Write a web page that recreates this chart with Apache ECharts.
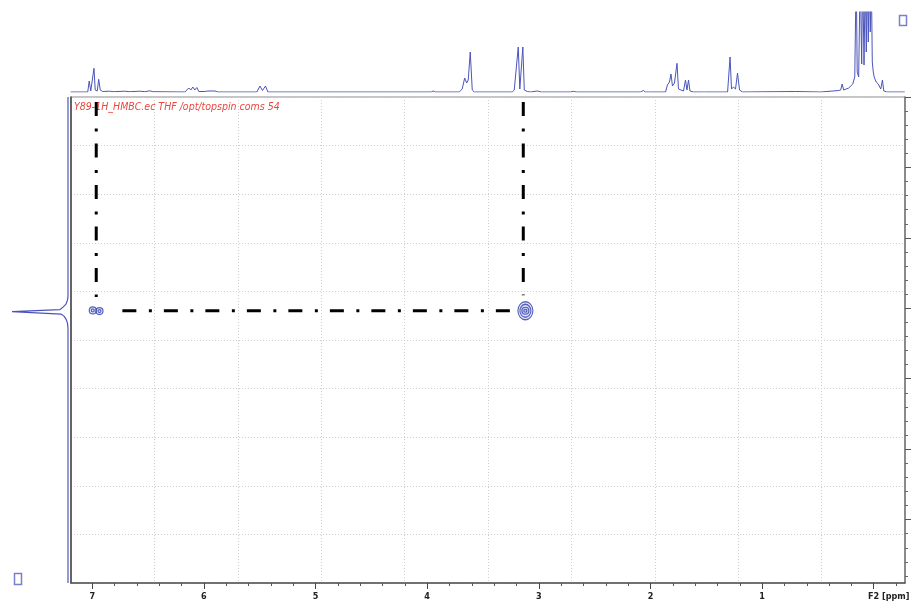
<!DOCTYPE html>
<html>
<head>
<meta charset="utf-8">
<title>HMBC</title>
<script src="https://cdn.jsdelivr.net/npm/echarts@6/dist/echarts.min.js"></script>
<style>
  html, body { margin: 0; padding: 0; background: #fff; }
  #chart { width: 912px; height: 603px; }
</style>
</head>
<body>
<div id="chart"></div>
<script>
// F2 (1H) projection on top: ppm / intensity pairs
var f2Ppm = [7.193, 7.040, 7.027, 7.013, 6.996, 6.984, 6.973, 6.955, 6.942, 6.928, 6.906, 6.843, 6.807, 6.709, 6.664,
  6.574, 6.529, 6.484, 6.457, 6.170, 6.135, 6.117, 6.099, 6.081, 6.063, 6.045, 5.991, 5.964, 5.901, 5.874,
  5.525, 5.498, 5.475, 5.448, 5.426, 3.964, 3.946, 3.928, 3.713, 3.686, 3.664, 3.646, 3.632, 3.614, 3.596, 3.578,
  3.238, 3.220, 3.184, 3.170, 3.157, 3.143, 3.130, 3.103, 3.076, 3.013, 2.996, 2.978, 2.717, 2.691, 2.664,
  2.090, 2.063, 2.045, 2.030, 2.009, 1.865, 1.848, 1.830, 1.816, 1.803, 1.785, 1.762, 1.749, 1.704, 1.686,
  1.673, 1.659, 1.646, 1.614, 1.534, 1.525, 1.516, 1.309, 1.287, 1.274, 1.256, 1.238, 1.220, 1.202, 1.175,
  0.700, 0.475, 0.314, 0.296, 0.283, 0.269, 0.224, 0.188, 0.170, 0.157, 0.148, 0.135, 0.121, 0.108, 0.099,
  0.087, 0.076, 0.067, 0.058, 0.049, 0.040, 0.031, 0.022, 0.013, 0.004, -0.004, -0.013, -0.022, -0.031,
  -0.040, -0.049, -0.063, -0.078, -0.090, -0.117, -0.278];
var f2Int = [0, 0, 11, 1, 2, 23.7, 2, 1, 12.7, 2, 0.5, 0.8, 0.3, 0.8, 0.3,
  0.8, 0.3, 1.2, 0.3, 0, 4, 2, 5, 2, 4.5, 0.5, 0.5, 1, 1, 0,
  0, 6, 1.5, 6, 0, 0, 1, 0, 0, 3, 14, 9, 12, 40, 2, 0,
  0, 2, 45, 3, 3, 45, 2, 0.5, 0, 1, 0.5, 0, 0, 0.7, 0,
  0, 1.5, 0, 1.5, 0, 0, 7, 10, 18, 6, 9, 28.7, 3, 1, 12,
  2, 12, 1, 0, 0, 1, 0, 0, 35, 3, 5, 3, 19, 2, 0,
  0.5, 0, 1.5, 2, 8, 2, 4, 8, 15, 120, 20, 15, 120, 28, 120,
  27, 120, 40, 120, 50, 120, 60, 120, 30, 20, 15, 14, 10, 12,
  8, 6, 3, 12, 1, 0, 0];

// F1 projection on the left
var f1Ppm = [130, 158.27, 158.84, 159.40, 159.83, 160.18, 160.48, 160.82, 161.11, 161.53, 162.10, 162.81, 199];
var f1Int = [0, 0, 0.5, 2, 5, 8, 56, 7, 4, 2, 0.5, 0, 0];

// cross peaks: [F2 ppm, F1 ppm, contour level]
var crossPeaks = [
  [3.12, 160.35, 1], [3.12, 160.35, 2], [3.12, 160.35, 3], [3.12, 160.35, 4],
  [6.995, 160.30, 3], [6.995, 160.30, 4], [6.935, 160.40, 3], [6.935, 160.40, 4]
];

// dash-dot correlation guides
var guideH = [[6.73, 160.33], [3.238, 160.33]];
var guideV1 = [[6.964, 130.71], [6.964, 158.4]];
var guideV2 = [[3.139, 130.71], [3.139, 158.13]];

var f2Range = [-0.28, 7.19];
var f1Range = [130, 199];
var f2Ticks = [7, 6, 5, 4, 3, 2, 1, 0];
var f2MinorTicks = [6.8, 6.6, 6.4, 6.2, 5.8, 5.6, 5.4, 5.2, 4.8, 4.6, 4.4, 4.2, 3.8, 3.6, 3.4, 3.2,
  2.8, 2.6, 2.4, 2.2, 1.8, 1.6, 1.4, 1.2, 0.8, 0.6, 0.4, 0.2, -0.2];
var f1Ticks = [130, 140, 150, 160, 170, 180, 190];
var f1MinorTicks = [132, 134, 136, 138, 142, 144, 146, 148, 152, 154, 156, 158, 162, 164, 166, 168,
  172, 174, 176, 178, 182, 184, 186, 188, 192, 194, 196, 198];

var chart = echarts.init(document.getElementById('chart'));

var blue = '#4b55b9';
var narrow = "'Liberation Sans Narrow', 'Arial Narrow', 'DejaVu Sans Condensed', sans-serif";
var levelSize = { 1: [15, 18], 2: [11, 13], 3: [7, 7], 4: [3, 3] };
var dashDot = [14, 12.5, 3, 12];

function pairs(a, b) {
  return a.map(function (v, i) { return [v, b[i]]; });
}

function guide(data) {
  return {
    type: 'line', xAxisIndex: 0, yAxisIndex: 0, data: data, z: 10,
    showSymbol: false, silent: true,
    lineStyle: { color: '#000', width: 3, type: dashDot, cap: 'butt' }
  };
}

var option = {
  animation: false,
  title: {
    text: 'Y89-1H_HMBC.ec THF /opt/topspin coms 54',
    left: 74, top: 102, padding: 0,
    textStyle: { color: '#e8473f', fontStyle: 'italic', fontWeight: 'normal', fontSize: 10.5, fontFamily: narrow }
  },
  grid: [
    { left: 71, right: 7, top: 97, bottom: 20, show: true, borderColor: '#8a8a8a', borderWidth: 1, outerBoundsMode: 'none' },
    { left: 71, right: 7, top: 12, height: 80, outerBoundsMode: 'none' },
    { left: 0, width: 68, top: 97, bottom: 20, outerBoundsMode: 'none' }
  ],
  xAxis: [
    {
      type: 'value', gridIndex: 0, position: 'bottom', inverse: true, min: f2Range[0], max: f2Range[1],
      axisLine: { show: true, onZero: false, lineStyle: { color: '#555', width: 1.5 } },
      axisTick: { show: true, customValues: f2Ticks, length: 6, lineStyle: { color: '#444' } },
      axisLabel: {
        show: true, customValues: f2Ticks, margin: 9, color: '#222', fontSize: 9, fontWeight: 'bold', fontFamily: narrow,
        formatter: function (v) { return v === 0 ? '{u|F2 [ppm]}' : String(v); },
        rich: { u: { fontSize: 9, fontWeight: 'bold', fontFamily: narrow, color: '#222', padding: [0, 0, 0, 30] } }
      },
      splitLine: { show: false }
    },
    {
      type: 'value', gridIndex: 0, position: 'bottom', inverse: true, min: f2Range[0], max: f2Range[1],
      axisLine: { show: false, onZero: false },
      axisTick: { show: true, customValues: f2MinorTicks, length: 3, lineStyle: { color: '#555' } },
      axisLabel: { show: false }, splitLine: { show: false }
    },
    {
      type: 'value', gridIndex: 0, position: 'top', min: 0, max: 10, interval: 1,
      axisLine: { show: false, onZero: false }, axisTick: { show: false }, axisLabel: { show: false },
      splitLine: { show: true, lineStyle: { color: '#cfcfcf', type: [1, 2], width: 1 } }
    },
    {
      type: 'value', gridIndex: 1, inverse: true, min: f2Range[0], max: f2Range[1], show: false
    },
    {
      type: 'value', gridIndex: 2, inverse: true, min: 0, max: 68, show: false
    }
  ],
  yAxis: [
    {
      type: 'value', gridIndex: 0, position: 'right', inverse: true, min: f1Range[0], max: f1Range[1],
      axisLine: { show: true, onZero: false, lineStyle: { color: '#777', width: 1.5 } },
      axisTick: { show: true, inside: false, customValues: f1Ticks, length: 6, lineStyle: { color: '#555' } },
      axisLabel: { show: false }, splitLine: { show: false }
    },
    {
      type: 'value', gridIndex: 0, position: 'right', inverse: true, min: f1Range[0], max: f1Range[1],
      axisLine: { show: false, onZero: false },
      axisTick: { show: true, inside: false, customValues: f1MinorTicks, length: 3, lineStyle: { color: '#666' } },
      axisLabel: { show: false }, splitLine: { show: false }
    },
    {
      type: 'value', gridIndex: 0, position: 'left', min: 0, max: 10, interval: 1,
      axisLine: { show: true, onZero: false, lineStyle: { color: '#444', width: 1.5 } },
      axisTick: { show: false }, axisLabel: { show: false },
      splitLine: { show: true, lineStyle: { color: '#cfcfcf', type: [1, 2], width: 1 } }
    },
    {
      type: 'value', gridIndex: 1, min: 0, max: 80, show: false
    },
    {
      type: 'value', gridIndex: 2, inverse: true, min: f1Range[0], max: f1Range[1], show: false
    }
  ],
  series: [
    {
      type: 'line', xAxisIndex: 3, yAxisIndex: 3, data: pairs(f2Ppm, f2Int),
      showSymbol: false, clip: true, silent: true,
      lineStyle: { color: blue, width: 1 }
    },
    {
      type: 'line', xAxisIndex: 4, yAxisIndex: 4, data: pairs(f1Int, f1Ppm),
      showSymbol: false, silent: true,
      lineStyle: { color: blue, width: 1.2 }
    },
    guide(guideH),
    guide(guideV1),
    guide(guideV2),
    {
      type: 'scatter', xAxisIndex: 0, yAxisIndex: 0, data: crossPeaks, z: 11, silent: true,
      symbol: 'circle',
      symbolSize: function (v) { return levelSize[v[2]]; },
      itemStyle: { color: 'rgba(70,90,210,0.12)', borderColor: '#2f3cab', borderWidth: 1.2 }
    }
  ],
  graphic: [
    { type: 'rect', left: 12, top: 571, shape: { width: 7, height: 11 }, style: { fill: 'none', stroke: '#7b7fd0', lineWidth: 1.5 } },
    { type: 'rect', left: 897, top: 13, shape: { width: 7, height: 10 }, style: { fill: 'none', stroke: '#7b7fd0', lineWidth: 1.5 } }
  ]
};

chart.setOption(option);
window.addEventListener('resize', function () {
  chart.resize();
});
</script>
</body>
</html>
